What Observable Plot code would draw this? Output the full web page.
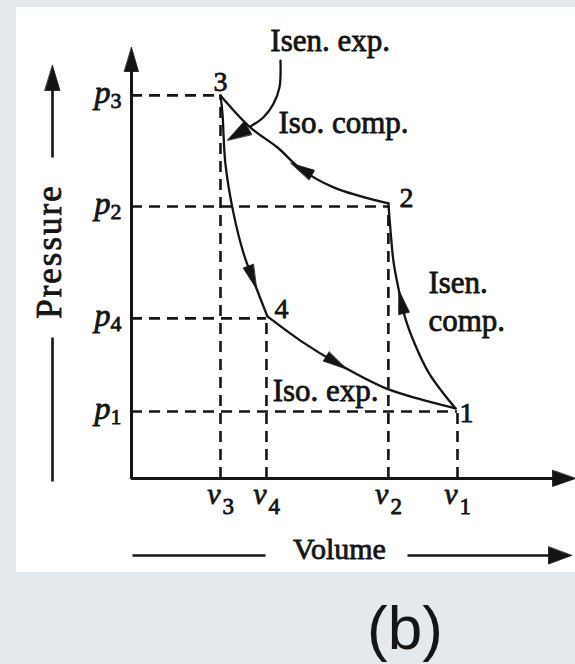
<!DOCTYPE html>
<html><head><meta charset="utf-8">
<script src="https://cdn.jsdelivr.net/npm/d3@7"></script>
<script src="https://cdn.jsdelivr.net/npm/@observablehq/plot@0.6"></script>
<style>
html,body{margin:0;padding:0;background:#e4e9ee;width:575px;height:664px;overflow:hidden;}
#wrap{position:relative;width:575px;height:664px;}
#chart{position:absolute;left:16px;top:7px;width:559px;height:565px;background:#fff;}
#chart svg{display:block;background:#fff;overflow:visible;}
#cap{position:absolute;left:367px;top:597px;font:62px/62px "Liberation Sans",Arial,sans-serif;color:#151515;white-space:nowrap;}
</style></head><body>
<div id="wrap"><div id="chart"></div><div id="cap">(b)</div></div>
<script>
// ---------- data (arbitrary units; p3 = 1, v1 = 1) ----------
const volNames   = ["v1", "v2", "v3", "v4"];
const volValues  = [1.000, 0.788, 0.273, 0.414];
const presNames  = ["p1", "p2", "p3", "p4"];
const presValues = [0.175, 0.710, 1.000, 0.418];

const stateNames = ["1", "2", "3", "4"];
const stateV = [0.994, 0.788, 0.273, 0.417];
const stateP = [0.183, 0.718, 1.000, 0.423];

const processNames = ["Isen. comp.", "Iso. comp.", "Isen. exp.", "Iso. exp."];
const processFrom = [0, 1, 2, 3];
const processTo   = [1, 2, 3, 0];
const isenCompV = [0.954, 0.911, 0.871, 0.840, 0.819, 0.804, 0.794];
const isenCompP = [0.225, 0.277, 0.347, 0.418, 0.496, 0.564, 0.653];
const isoCompV  = [0.620, 0.518, 0.448, 0.365];
const isoCompP  = [0.760, 0.809, 0.864, 0.916];
const isenExpV  = [0.279, 0.288, 0.313, 0.344, 0.374];
const isenExpP  = [0.953, 0.822, 0.692, 0.587, 0.517];
const isoExpV   = [0.518, 0.632, 0.773, 0.877];
const isoExpP   = [0.360, 0.300, 0.238, 0.209];

const flowV = [0.831, 0.521, 0.371, 0.629];
const flowP = [0.462, 0.807, 0.525, 0.303];

const labelTexts = ["Isen. exp.", "Iso. comp.", "Isen.", "comp.", "Iso. exp."];
const labelV = [0.426, 0.451, 0.911, 0.911, 0.433];
const labelP = [1.117, 0.903, 0.484, 0.384, 0.201];

const pointerV = [0.457, 0.454, 0.436, 0.405, 0.365];
const pointerP = [1.091, 1.021, 0.979, 0.943, 0.919];
const pointerTip = [0.294, 0.883];

const xTitle = "Volume";
const yTitle = "Pressure";

// ---------- scales ----------
const ink = "#141414";
const serif = "Liberation Serif, Times New Roman, serif";
const X = {type: "linear", domain: [0, 1.362], range: [115, 559]};
const Y = {type: "linear", domain: [0, 1.125], range: [471, 40]};
const sx = Plot.scale({x: X}), sy = Plot.scale({y: Y});
const toData = (px, py) => ({v: sx.invert(px), p: sy.invert(py)});
const toPx = (v, p) => [sx.apply(v), sy.apply(p)];
const xMax = X.domain[1], yMax = Y.domain[1];

// ---------- derived tables ----------
const interiors = [[isenCompV, isenCompP], [isoCompV, isoCompP], [isenExpV, isenExpP], [isoExpV, isoExpP]];
const curvePts = processNames.map((name, k) => {
  const a = processFrom[k], b = processTo[k];
  return [{v: stateV[a], p: stateP[a]}]
    .concat(interiors[k][0].map((v, i) => ({v, p: interiors[k][1][i]})))
    .concat([{v: stateV[b], p: stateP[b]}])
    .map(d => ({process: name, ...d}));
});
const curves = curvePts.flat();

const heads = [];
function addHead(id, tip, dir, len, hw) {
  const n = Math.hypot(dir[0], dir[1]), ux = dir[0] / n, uy = dir[1] / n;
  const bx = tip[0] - ux * len, by = tip[1] - uy * len;
  [[tip[0], tip[1]], [bx - uy * hw, by + ux * hw], [bx + uy * hw, by - ux * hw]]
    .forEach(([x, y]) => heads.push({id, ...toData(x, y)}));
}
// flow arrows on each process curve (snapped onto the nearest segment)
processNames.forEach((name, k) => {
  const pts = curvePts[k].map(d => toPx(d.v, d.p));
  const c = toPx(flowV[k], flowP[k]);
  let best = null, bd = Infinity;
  for (let i = 0; i < pts.length - 1; i++) {
    const [ax, ay] = pts[i], [bx, by] = pts[i + 1];
    const dx = bx - ax, dy = by - ay;
    const t = Math.max(0, Math.min(1, ((c[0] - ax) * dx + (c[1] - ay) * dy) / (dx * dx + dy * dy)));
    const qx = ax + t * dx, qy = ay + t * dy;
    const d = Math.hypot(qx - c[0], qy - c[1]);
    if (d < bd) { bd = d; best = {q: [qx, qy], dir: [dx, dy]}; }
  }
  const n = Math.hypot(best.dir[0], best.dir[1]);
  const len = 24;
  addHead("flow" + k, [best.q[0] + best.dir[0] / n * len / 2, best.q[1] + best.dir[1] / n * len / 2], best.dir, len, 5.4);
});
// axes heads
addHead("yaxis", toPx(0, yMax), [0, -1], 24, 7);
addHead("xaxis", toPx(xMax, 0), [1, 0], 23, 8);
// pointer head
{
  const last = toPx(pointerV[pointerV.length - 1], pointerP[pointerP.length - 1]);
  const tip = toPx(pointerTip[0], pointerTip[1]);
  addHead("pointer", tip, [tip[0] - last[0], tip[1] - last[1]], 24, 7.5);
}
const pointer = pointerV.map((v, i) => ({v, p: pointerP[i]}));
// Pressure / Volume title arrows (svg pixel layout)
addHead("ptitle", [36, 58], [0, -1], 25, 7.5);
addHead("vtitle", [555, 548], [1, 0], 23, 8.5);
const titleLines = [
  {id: "p1", ...toData(36, 150)}, {id: "p1", ...toData(36, 80)},
  {id: "p2", ...toData(36, 330)}, {id: "p2", ...toData(36, 474)},
  {id: "v1", ...toData(116, 548)}, {id: "v1", ...toData(249, 548)},
  {id: "v2", ...toData(391, 548)}, {id: "v2", ...toData(535, 548)}
];
const axisPts = [
  toData(sx.apply(0), sy.apply(yMax) + 14),
  {v: 0, p: 0},
  toData(sx.apply(xMax) - 14, sy.apply(0))
];
const stateOffsets = [[11, 14], [18, 4], [0, -4], [14, 2]];
const stateLabels = stateNames.map((s, i) => {
  const [px, py] = toPx(stateV[i], stateP[i]);
  return {text: s, ...toData(px + stateOffsets[i][0], py + stateOffsets[i][1])};
});
const idx = volNames.map((_, i) => i);
const titlePos = {P: toData(33, 244), V: toData(323, 551)};
const heavy = {fill: ink, stroke: ink, strokeWidth: 0.8, fontFamily: serif};

const chart = Plot.plot({
  width: 559, height: 565,
  marginLeft: 115, marginRight: 0, marginTop: 40, marginBottom: 94,
  x: {...X, axis: null}, y: {...Y, axis: null},
  style: {background: "white", overflow: "visible", color: ink},
  marks: [
    // dashed guide lines
    Plot.ruleY(idx, {y: i => presValues[i], x1: () => 0, x2: i => volValues[i], stroke: ink, strokeWidth: 2.6, strokeDasharray: "11,7"}),
    Plot.ruleX(idx, {x: i => volValues[i], y1: () => 0, y2: i => presValues[i], stroke: ink, strokeWidth: 2.6, strokeDasharray: "11,7"}),
    // axes
    Plot.line(axisPts, {x: "v", y: "p", stroke: ink, strokeWidth: 3, strokeLinejoin: "miter", strokeLinecap: "butt"}),
    // process curves
    Plot.line(curves, {x: "v", y: "p", z: "process", curve: "catmull-rom", stroke: ink, strokeWidth: 2.3}),
    // pointer for "Isen. exp."
    Plot.line(pointer, {x: "v", y: "p", curve: "catmull-rom", stroke: ink, strokeWidth: 2.3}),
    // title arrows
    Plot.line(titleLines, {x: "v", y: "p", z: "id", stroke: ink, strokeWidth: 2.6, strokeLinecap: "butt"}),
    // arrowheads
    Plot.line(heads, {x: "v", y: "p", z: "id", fill: ink, stroke: ink, strokeWidth: 0.8, curve: "linear-closed"}),
    // process labels
    Plot.text(idx.concat([4]), {x: i => labelV[i], y: i => labelP[i], text: i => labelTexts[i], textAnchor: "start", lineAnchor: "bottom", fontSize: 31, ...heavy}),
    // state numbers
    Plot.text(stateLabels, {x: "v", y: "p", text: "text", textAnchor: "middle", lineAnchor: "bottom", fontSize: 28, ...heavy}),
    // tick labels: volume
    Plot.text(idx, {x: i => volValues[i], y: () => 0, text: i => volNames[i].slice(0, 1), textAnchor: "end", lineAnchor: "bottom", dy: 25, fontStyle: "italic", fontSize: 30, ...heavy}),
    Plot.text(idx, {x: i => volValues[i], y: () => 0, text: i => volNames[i].slice(1), textAnchor: "start", lineAnchor: "bottom", dx: 2, dy: 35, fontSize: 23, ...heavy}),
    // tick labels: pressure
    Plot.text(idx, {x: () => 0, y: i => presValues[i], text: i => presNames[i].slice(0, 1), textAnchor: "end", lineAnchor: "bottom", dx: -21, dy: 8, fontStyle: "italic", fontSize: 32, ...heavy}),
    Plot.text(idx, {x: () => 0, y: i => presValues[i], text: i => presNames[i].slice(1), textAnchor: "start", lineAnchor: "bottom", dx: -21, dy: 13, fontSize: 22, ...heavy}),
    // axis titles
    Plot.text([yTitle], {x: () => titlePos.P.v, y: () => titlePos.P.p, text: d => d, rotate: -90, textAnchor: "middle", lineAnchor: "middle", fontSize: 35, ...heavy}),
    Plot.text([xTitle], {x: () => titlePos.V.v, y: () => titlePos.V.p, text: d => d, textAnchor: "middle", lineAnchor: "bottom", fontSize: 30, ...heavy})
  ]
});
// slight letter spacing for the rotated y title, as in the reference
d3.select(chart).selectAll("text").filter(function() { return this.textContent === yTitle; }).style("letter-spacing", "2px");
document.getElementById("chart").appendChild(chart);
</script>
</body></html>
